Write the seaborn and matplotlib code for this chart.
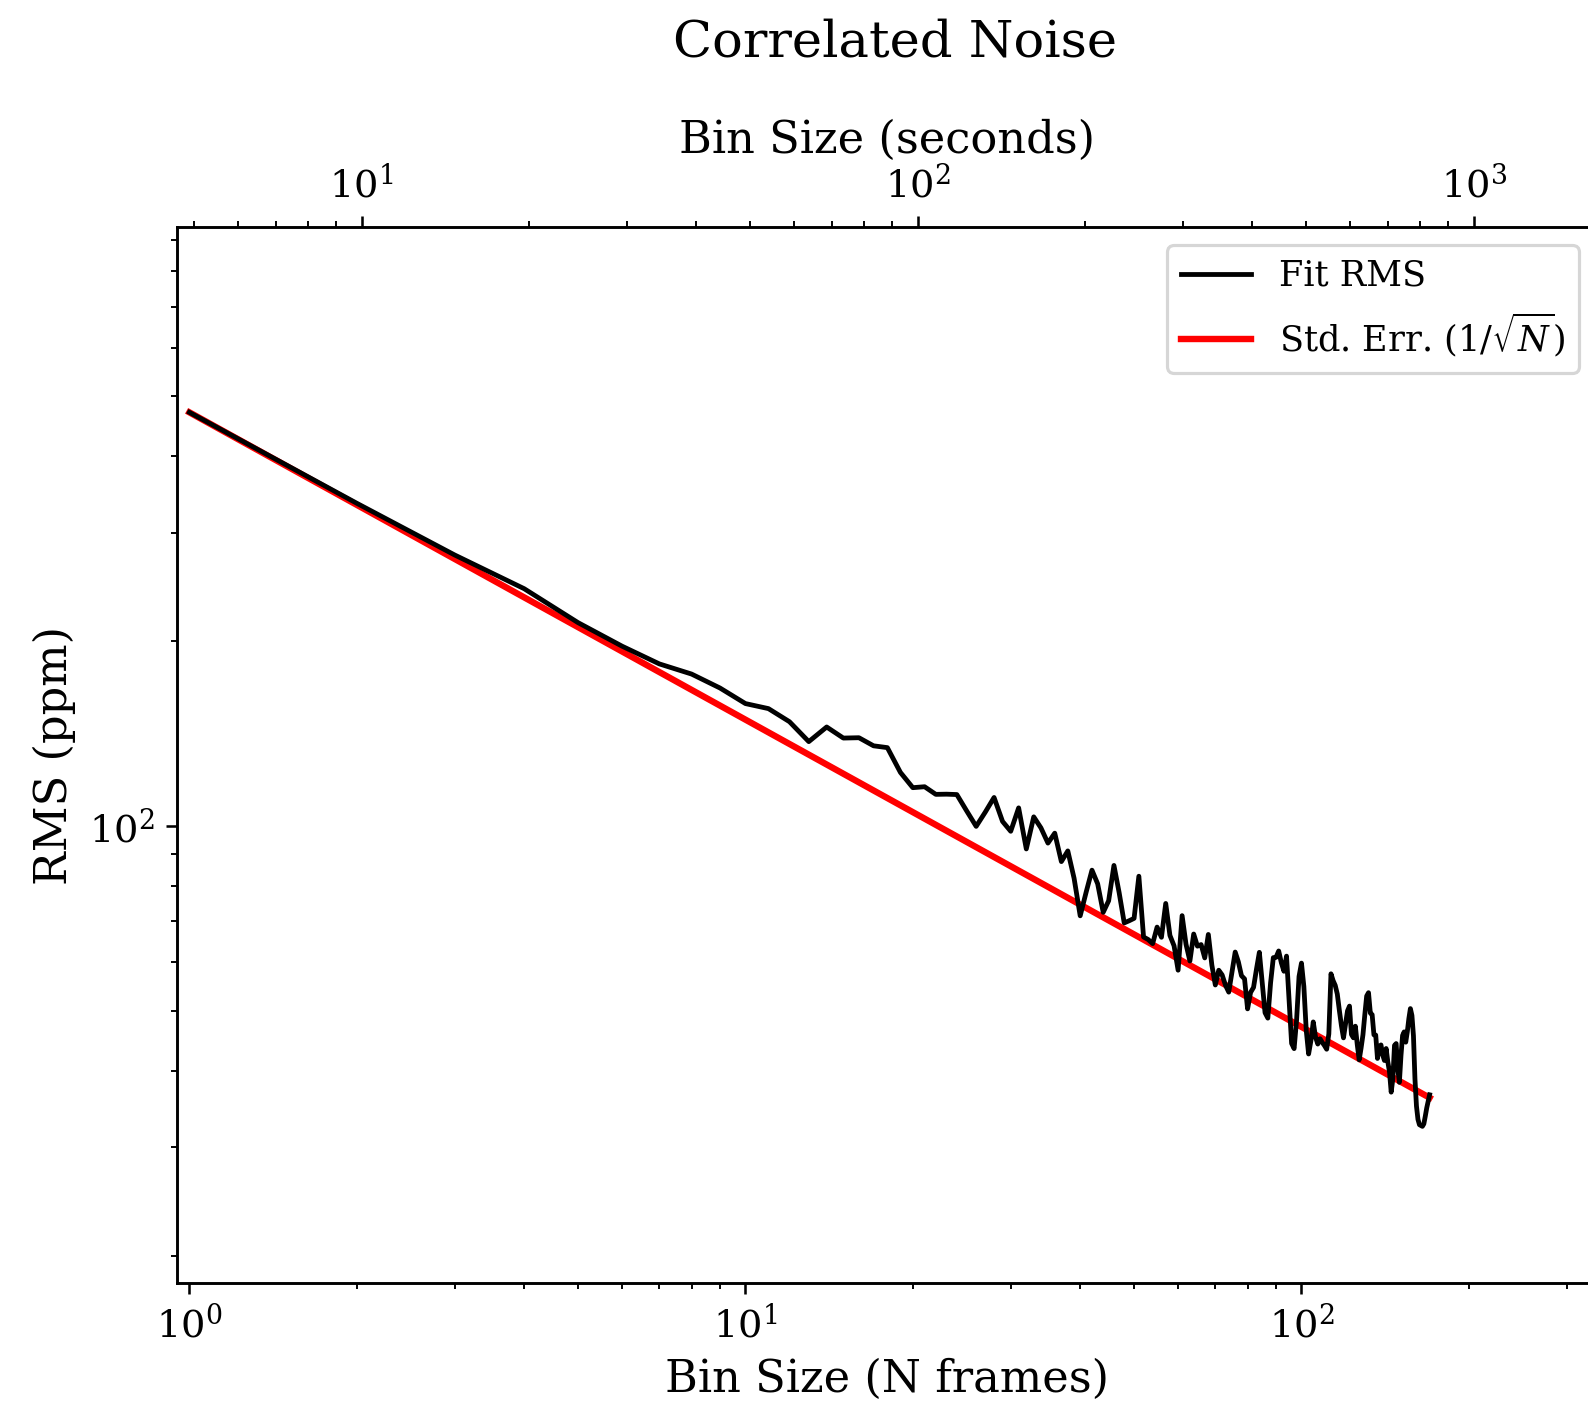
import numpy as np
import pandas as pd
import matplotlib
matplotlib.use("Agg")
import matplotlib.pyplot as plt
import seaborn as sns

# ---------------- data ----------------
bin_size = list(range(1, 171))          # bin size in frames
stderr_at_one_ppm = 471.0                # RMS at N = 1 (ppm)
frame_time_s = 4.9                       # seconds per frame (top axis)

rms_over_stderr = [
    1.000, 1.006, 1.015, 1.033, 1.017, 1.020, 1.031, 1.061, 1.068, 1.062,
    1.093, 1.087, 1.050, 1.151, 1.143, 1.182, 1.182, 1.208, 1.131, 1.096,
    1.127, 1.121, 1.147, 1.170, 1.123, 1.081, 1.162, 1.250, 1.163, 1.140,
    1.265, 1.102, 1.262, 1.229, 1.178, 1.240, 1.130, 1.192, 1.090, 0.959,
    1.061, 1.166, 1.121, 1.019, 1.076, 1.242, 1.134, 1.023, 1.042, 1.062,
    1.256, 1.010, 1.010, 1.004, 1.078, 1.047, 1.199, 1.073, 1.041, 0.958,
    1.185, 1.073, 1.016, 1.133, 1.091, 1.106, 1.060, 1.166, 1.047, 0.979,
    1.042, 1.031, 0.999, 0.980, 1.065, 1.154, 1.120, 1.070, 1.064, 0.957,
    1.024, 1.050, 1.131, 1.212, 1.088, 0.978, 0.964, 1.107, 1.223, 1.231,
    1.268, 1.220, 1.188, 1.264, 1.078, 0.921, 0.908, 1.016, 1.202, 1.270,
    1.169, 0.997, 0.917, 0.969, 1.044, 0.991, 0.970, 0.994, 0.985, 0.978,
    0.969, 1.031, 1.297, 1.270, 1.253, 1.218, 1.150, 1.091, 1.047, 1.106,
    1.168, 1.194, 1.078, 1.069, 1.121, 1.050, 0.996, 1.045, 1.103, 1.194,
    1.285, 1.306, 1.215, 1.212, 1.128, 1.131, 1.040, 1.091, 1.102, 1.065,
    1.047, 1.099, 1.049, 1.013, 0.943, 0.995, 1.131, 1.143, 1.042, 0.995,
    1.104, 1.194, 1.214, 1.172, 1.222, 1.288, 1.342, 1.312, 1.220, 1.040,
    0.943, 0.900, 0.885, 0.885, 0.885, 0.896, 0.925, 0.957, 0.984, 1.011,
]

n = np.array(bin_size, dtype=float)
stderr = stderr_at_one_ppm / np.sqrt(n)
rms = stderr * np.array(rms_over_stderr)
df = pd.DataFrame({"bin": n, "rms": rms, "stderr": stderr})

# ---------------- style ----------------
sns.set_theme(style="ticks")
plt.rcParams.update({
    "font.family": ["DejaVu Serif"],
    "mathtext.fontset": "dejavuserif",
    "font.size": 10,
    "xtick.labelsize": 12,
    "ytick.labelsize": 12,
    "legend.fontsize": 11,
    "axes.edgecolor": "black",
    "axes.labelcolor": "black",
    "text.color": "black",
    "xtick.color": "black",
    "ytick.color": "black",
    "axes.linewidth": 0.8,
    "xtick.major.size": 3.5, "xtick.minor.size": 2,
    "ytick.major.size": 3.5, "ytick.minor.size": 2,
    "xtick.major.width": 0.8, "xtick.minor.width": 0.6,
    "ytick.major.width": 0.8, "ytick.minor.width": 0.6,
    "lines.solid_capstyle": "projecting",
})

DPI = 230
fig = plt.figure(figsize=(1588 / DPI, 1413 / DPI), dpi=DPI)
ax = fig.add_axes([0.11146, 0.0922, 0.8942, 0.7469])
ax.set_xscale("log")
ax.set_yscale("log")

sns.lineplot(data=df, x="bin", y="rms", color="black", linewidth=1.5,
             label="Fit RMS", estimator=None, sort=False, ax=ax, zorder=3)
sns.lineplot(data=df, x="bin", y="stderr", color="red", linewidth=2,
             label=r"Std. Err. ($1/\sqrt{N}$)", estimator=None, sort=False,
             ax=ax, zorder=1)

ax.set_xlim(0.95, bin_size[-1] * 2)
ax.set_ylim(stderr[-1] / 2.0, stderr[0] * 2.0)
ax.set_xlabel("Bin Size (N frames)", fontsize=14)
ax.set_ylabel("RMS (ppm)", fontsize=14)
ax.legend(loc="upper right")

ax2 = ax.twiny()
ax2.set_xscale("log")
xl = ax.get_xlim()
ax2.set_xlim(xl[0] * frame_time_s, xl[1] * frame_time_s)
ax2.set_xlabel("Bin Size (seconds)", fontsize=14)
ax2.tick_params(axis="x", labelsize=12)

fig.suptitle("Correlated Noise", fontsize=16, x=0.5635, y=0.960, va="baseline")

fig.savefig("out.png", dpi=DPI)
